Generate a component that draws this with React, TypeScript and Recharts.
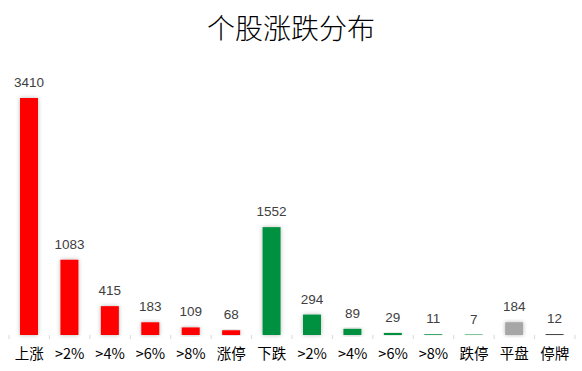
import React from "react";
import { BarChart, Bar, XAxis, YAxis, Cell, LabelList } from "recharts";

const categories = ["上涨", ">2%", ">4%", ">6%", ">8%", "涨停", "下跌", ">2%", ">4%", ">6%", ">8%", "跌停", "平盘", "停牌"];
const counts = [3410, 1083, 415, 183, 109, 68, 1552, 294, 89, 29, 11, 7, 184, 12];
const barColors = [
  "#ff0000", "#ff0000", "#ff0000", "#ff0000", "#ff0000", "#ff0000",
  "#00913f", "#00913f", "#00913f", "#00913f", "#00913f", "#00913f",
  "#a6a6a6", "#262626",
];

const data = categories.map((name, i) => ({ id: i, name, value: counts[i] }));

const W = 582;
const H = 371;
const M = { top: 57, right: 7, bottom: 0, left: 9 };
const BAND = (W - M.left - M.right) / categories.length;
const AXIS_Y = 335;

const GlowBar = (props: any) => {
  const { x, y, width, height, fill } = props;
  if (height <= 0) return null;
  return <rect x={x} y={y} width={width} height={height} fill={fill} filter="url(#barGlow)" />;
};

const CatTick = (props: any) => {
  const { x, payload, index } = props;
  const left = x - BAND / 2;
  return (
    <g>
      <line x1={left} y1={AXIS_Y} x2={left} y2={AXIS_Y + 4} stroke="#d9d9d9" />
      {index === categories.length - 1 && (
        <line x1={left + BAND} y1={AXIS_Y} x2={left + BAND} y2={AXIS_Y + 4} stroke="#d9d9d9" />
      )}
      <text
        x={x}
        y={AXIS_Y + 24}
        textAnchor="middle"
        fontSize={14.5}
        fill="#000"
        fontFamily="'Noto Sans CJK SC', 'Liberation Sans', sans-serif"
      >
        {categories[payload.value]}
      </text>
    </g>
  );
};

export default function App() {
  return (
    <div style={{ position: "absolute", left: 0, top: 0, width: W, height: H, background: "#fff" }}>
      <svg width={0} height={0} style={{ position: "absolute" }}>
        <defs>
          <filter id="barGlow" x="-50%" y="-20%" width="200%" height="140%">
            <feDropShadow dx={0} dy={0} stdDeviation={2.2} floodColor="#000" floodOpacity={0.28} />
          </filter>
          <filter id="axisGlow" x="-5%" y="-400%" width="110%" height="900%">
            <feDropShadow dx={0} dy={1.5} stdDeviation={1.2} floodColor="#000" floodOpacity={0.3} />
          </filter>
        </defs>
      </svg>
      <div
        style={{
          position: "absolute",
          top: 9,
          left: 0,
          width: W,
          textAlign: "center",
          fontSize: 28,
          lineHeight: "36px",
          fontFamily: "'Noto Sans CJK SC', serif",
          fontWeight: 300,
          color: "#000",
        }}
      >
        个股涨跌分布
      </div>
      <BarChart width={W} height={H} data={data} margin={M} barSize={18}>
        <XAxis
          dataKey="id"
          type="category"
          height={36}
          tickLine={false}
          axisLine={{ stroke: "#d9d9d9", strokeWidth: 1.2, filter: "url(#axisGlow)" }}
          tick={<CatTick />}
          interval={0}
        />
        <YAxis hide domain={[0, 4000]} />
        <Bar dataKey="value" isAnimationActive={false} shape={<GlowBar />}>
          {data.map((d) => (
            <Cell key={d.id} fill={barColors[d.id]} />
          ))}
          <LabelList
            dataKey="value"
            position="top"
            offset={11}
            fill="#404040"
            fontSize={13.5}
            fontFamily="'Liberation Sans', sans-serif"
          />
        </Bar>
      </BarChart>
    </div>
  );
}
